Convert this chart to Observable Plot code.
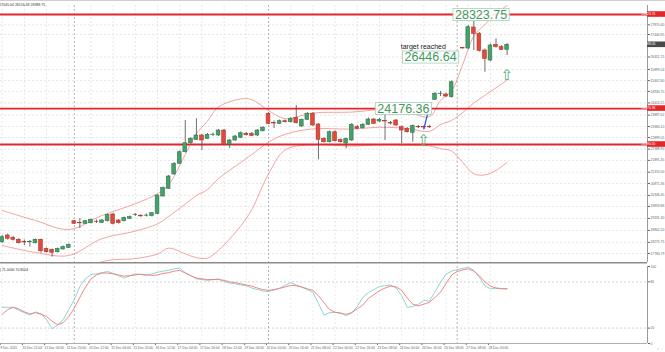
<!DOCTYPE html>
<html><head><meta charset="utf-8">
<script src="https://cdn.jsdelivr.net/npm/d3@7"></script>
<script src="https://cdn.jsdelivr.net/npm/@observablehq/plot@0.6"></script>
<style>
html,body{margin:0;padding:0;background:#fff;}
body{width:665px;height:352px;overflow:hidden;font-family:"Liberation Sans",Arial,sans-serif;}
svg{display:block;overflow:visible}
</style></head><body>
<div id="main"></div><div id="osc"></div>
<script>
// ---- candle data (Bitcoin H4) ----
const open = [18282,18578,18476,18388,18291,18278,18238,18388,17991,17947,
17841,17960,18035,19208,19129,19094,19120,19186,19138,19208,
19504,19239,19208,19314,19482,19438,19451,19438,19535,20298,
20637,21268,21740,22251,22648,22798,22988,22842,23010,22988,
23208,22578,22767,22886,23063,23063,22988,23177,23945,23539,
23504,23618,23574,23768,23385,23680,23945,23473,22842,22692,
23133,22789,22635,22767,23363,23310,23460,23693,23605,23627,
23539,23649,23354,23283,23107,23363,23354,23363,24562,24818,
24796,24677,26450,26855,26824,27750,27473,26736,26295,26988,
26882,26767];
const close = [18503,18432,18388,18238,18269,18291,18388,17885,17841,17815,
17991,18062,18168,19094,19116,19208,19270,19173,19239,19473,
19094,19120,19358,19385,19495,19424,19460,19561,20342,20672,
21180,21740,22251,22648,22842,22988,22767,23019,23023,23208,
22578,22767,22944,23089,23001,22974,23208,23327,23504,23517,
23618,23574,23724,23530,23680,23945,23429,22798,22692,23133,
22736,22692,22833,23460,23283,23460,23693,23504,23680,23605,
23517,23429,23208,23133,23398,23349,23340,23349,24827,24831,
24708,25338,26441,26824,27764,27473,26714,26370,26957,26882,
26767,26988];
const high = [18578,18644,18534,18445,18379,18357,18423,18423,18026,17982,
18026,18115,18203,19239,19327,19239,19305,19261,19283,19526,
19561,19283,19394,19438,19548,19504,19526,19592,20364,20717,
21224,21797,22304,23649,22899,23724,23032,23076,23098,23252,
23252,22811,22988,23142,23120,23120,23252,23385,24002,23627,
23671,23671,23781,24311,23715,24002,24002,23517,22899,23186,
23186,22833,22877,23517,23429,23517,23759,23737,23737,24015,
23605,23693,23407,23340,23451,23429,23407,23429,24884,24928,
24862,25391,26604,26877,27839,28015,27530,26802,27023,27252,
26957,27045];
const low = [18225,18379,18335,18203,18137,18062,18203,17797,17806,17621,
17806,17938,18004,19063,18886,19063,19085,19107,19107,19173,
19041,19085,19173,19283,19416,19371,19394,19394,19504,20276,
20606,21246,21709,22216,22613,22767,22326,22811,22944,22944,
22547,22414,22723,22855,22966,22944,22944,23142,23473,23296,
23473,23539,23539,23495,23340,23649,23385,21916,22657,22657,
22701,22657,22401,22723,23252,23274,23429,23473,23561,22767,
23451,23385,22622,23098,22692,23296,23283,23296,24531,24708,
24663,24641,26295,26802,26780,26736,26670,25779,26251,26846,
26736,26516];

// ---- Bollinger bands (read at selected candles) ----
const bbIdx   = [0,6,12,18,24,28,30,33,35,37,39,43,45,48,51,56,63,68,73,77,79,81,83,85,87,89,91];
const bbUpper = [19680,19239,18842,19460,19980,20420,20820,22150,23070,23620,24250,24600,24570,24090,23730,23980,24020,24120,24030,23820,24530,24960,26120,27370,27880,28360,28720];
const bbMid   = [18137,17828,17696,18440,18770,19090,19420,19960,20340,20600,21090,21800,22150,22690,23040,23280,23270,23350,23300,23170,23470,23650,24000,24420,24760,25090,25430];
const bbLower = [16593,16549,16549,17420,17560,17760,18020,17770,17600,17580,17930,19000,19730,21290,22350,22580,22520,22580,22560,22530,22410,22300,21800,21300,21250,21450,21800];

// ---- Stochastic (5,3,3) ----
const stochK = [47,47,47,43,40,37,41,38.5,31,19,24,31,44,57,74,84,89.5,90.5,92,93.5,
91,88,85,88,90.5,89.5,88,90.5,92.5,94,95,97,98,92,88,84,83,82,83,84,
80.5,78.5,77.5,76,75,72,70,68,67.5,69.5,72,75.5,79,76,73,70,66.5,52,37,40,
40.5,40,36,40,48,60,66,70,74,75,76,72,62,47,48,51,56,55,67,79.5,
90,94,96,97.5,99,95,86,75,71,72,71.5,71];
const stochD = [38,44,47,45,41,38.5,40,38,35,29,24.5,27,35,46,60,73,84,89,91.5,91.5,
90.5,89,87.5,88,89,90,89.5,88.5,89,91,92,94,95,91.5,88,85,84,83,83,83,
82,80,79,77.5,76,74.5,72,70,69,70,71.5,73.5,75.5,75,73.5,71,69,62,53,44,
40.5,39,38,40,45,50,58.5,63.5,68.5,72,74.5,73.5,69,59,51,49,51,53.5,60,66.5,
78,89,93.5,95.5,97,94,88,80,74.5,72,71,71];

// ---- levels, ticks, labels ----
const levels = [28323.75, 24176.36, 22590.00];
const priceTicks = [27870.40,27440.85,26451.75,25899.24,25407.80,24930.75,24424.25,23887.62,23384.10,22899.05,22388.90,21891.45,21370.00,20871.36,20346.45,19859.86,19331.30,18802.20,18275.75,17783.79];
const labelIdx = [0,4,8,12,16,20,24,28,32,36,40,44,48,52,56,60,64,68,72,76,80,84,88];
const xLabels = ["9 Dec 2020","10 Dec 12:00","11 Dec 04:00","11 Dec 20:00","14 Dec 12:00","15 Dec 04:00","15 Dec 20:00","16 Dec 12:00","17 Dec 04:00","17 Dec 20:00","18 Dec 12:00","19 Dec 04:00","20 Dec 00:00","20 Dec 16:00","21 Dec 08:00","22 Dec 00:00","22 Dec 16:00","23 Dec 08:00","24 Dec 00:00","24 Dec 16:00","26 Dec 08:00","27 Dec 08:00","28 Dec 00:00"];
const sepIdx = [13, 48, 82];
const blueIdx = [76, 76.9];
const bluePrice = [23283, 24176.36];
const arrowIdx = [76, 91];
const arrowPrice = [22800, 25650];
const notes = [
  {text: "28323.75", i: 86.4, p: 28323.75},
  {text: "24176.36", i: 72.4, p: 24176.36},
  {text: "26446.64", i: 77.3, p: 26446.64}
];

// ---- build ----
const GREEN = "#47a06b", RED = "#de4a3c";
const candles = d3.range(open.length).map(i => ({i, o: open[i], h: high[i], l: low[i], c: close[i], up: close[i] >= open[i]}));
const bands = bbIdx.map((i, k) => ({i, u: bbUpper[k], m: bbMid[k], l: bbLower[k]}));
const blue = blueIdx.map((i, k) => ({i, p: bluePrice[k]}));
const arrows = arrowIdx.map((i, k) => ({i, p: arrowPrice[k]}));
const stoch = stochK.map((k, i) => ({i, k, d: stochD[i]}));
const xDomain = [-0.3, 116.3];
const W = 665, AX = 18;
const FONT = "Liberation Sans, Arial, sans-serif";
const bandStyle = {stroke: "#f08a8a", strokeWidth: 0.8, curve: "catmull-rom", clip: true};

const main = Plot.plot({
  width: W, height: 262, marginTop: 5, marginBottom: 0, marginLeft: 0, marginRight: AX,
  x: {domain: xDomain, axis: null},
  y: {domain: [17387, 28721], axis: null},
  style: {background: "transparent", fontFamily: FONT, color: "#666", overflow: "hidden"},
  marks: [
    Plot.ruleY(priceTicks, {stroke: "#e6e6e6", strokeDasharray: "2,2"}),
    Plot.ruleX(labelIdx, {stroke: "#e6e6e6", strokeDasharray: "2,2"}),
    Plot.ruleX(sepIdx, {stroke: "#b4b4b4", strokeDasharray: "2,2"}),
    Plot.line(bands, {x: "i", y: "u", ...bandStyle}),
    Plot.line(bands, {x: "i", y: "m", ...bandStyle}),
    Plot.line(bands, {x: "i", y: "l", ...bandStyle}),
    Plot.ruleY(levels, {stroke: "#e2262b", strokeWidth: 1.8}),
    Plot.ruleX(candles, {x: "i", y1: "l", y2: "h", stroke: "#4a4a4a", strokeWidth: 0.8}),
    Plot.rect(candles, {x1: d => d.i - 0.34, x2: d => d.i + 0.34, y1: "o", y2: "c",
      fill: d => d.up ? GREEN : RED, stroke: d => d.up ? "#2f7a4c" : "#b5372b", strokeWidth: 0.6}),
    Plot.line(blue, {x: "i", y: "p", stroke: "#3651d6", strokeWidth: 1.3}),
    Plot.text(arrows, {x: "i", y: "p", text: () => "\u21e7", fontSize: 15, fill: "#56a872", fontFamily: "DejaVu Sans"}),
    Plot.text(["target reached"], {x: 75.9, y: 26900, fontSize: 7, fill: "#222"}),
    Plot.ruleX([xDomain[1]], {stroke: "#9a9a9a"}),
    Plot.axisY({anchor: "right", ticks: priceTicks, tickFormat: d => d.toFixed(2), tickSize: 2, tickPadding: 1, fontSize: 3.3})
  ]
});
document.getElementById("main").append(main);

const xs = main.scale("x"), ys = main.scale("y");
const sm = d3.select(main);
// top border and legend
sm.append("line").attr("x1", 0).attr("x2", W).attr("y1", 0.5).attr("y2", 0.5).attr("stroke", "#cfcfcf");
sm.append("text").attr("x", 5).attr("y", 5.5).attr("font-size", 3.5).attr("fill", "#333")
  .text("Bitcoin, H4  26767.36 27045.04 26516.48 26988.75");
// annotation boxes
for (const n of notes) {
  const g = sm.append("g");
  const t = g.append("text").attr("x", xs.apply(n.i)).attr("y", ys.apply(n.p))
    .attr("text-anchor", "middle").attr("dy", "0.36em").attr("font-size", 12.5)
    .attr("fill", "#3f9a62").text(n.text);
  const bb = t.node().getBBox();
  g.insert("rect", "text").attr("x", bb.x - 2).attr("y", bb.y + 1).attr("width", bb.width + 4).attr("height", bb.height - 2)
    .attr("fill", "rgba(255,255,255,0.92)").attr("stroke", "#a9cfb6").attr("stroke-width", 0.8);
}
// right axis level labels
const axX = xs.apply(xDomain[1]);
for (const v of levels) {
  const y = ys.apply(v);
  sm.append("rect").attr("x", axX).attr("y", y - 2.8).attr("width", W - axX).attr("height", 5.6).attr("fill", "#e2262b");
  sm.append("text").attr("x", axX + 1.5).attr("y", y + 1.2).attr("font-size", 3.3).attr("fill", "#fff").text(v.toFixed(2));
}
{
  const v = close[close.length - 1], y = ys.apply(v);
  sm.append("rect").attr("x", axX).attr("y", y - 2.8).attr("width", W - axX).attr("height", 5.6).attr("fill", "#4a4a4a");
  sm.append("text").attr("x", axX + 1.5).attr("y", y + 1.2).attr("font-size", 3.3).attr("fill", "#fff").text(v.toFixed(2));
}

const osc = Plot.plot({
  width: W, height: 90, marginTop: 4, marginBottom: 9, marginLeft: 0, marginRight: AX,
  x: {domain: xDomain, axis: null},
  y: {domain: [0, 100], axis: null},
  style: {background: "transparent", fontFamily: FONT, color: "#666", overflow: "hidden"},
  marks: [
    Plot.ruleY([20, 80], {stroke: "#d2d2d2", strokeDasharray: "2,2"}),
    Plot.ruleX(labelIdx, {stroke: "#ececec", strokeDasharray: "2,2"}),
    Plot.ruleX(sepIdx, {stroke: "#b4b4b4", strokeDasharray: "2,2"}),
    Plot.line(stoch, {x: "i", y: "k", stroke: "#7fd0cf", strokeWidth: 0.9}),
    Plot.line(stoch, {x: "i", y: "d", stroke: "#f07878", strokeWidth: 0.9}),
    Plot.ruleX([xDomain[1]], {stroke: "#9a9a9a"}),
    Plot.axisY({anchor: "right", ticks: [0, 20, 80, 100], tickSize: 2, tickPadding: 1, fontSize: 3.3}),
    Plot.axisX({ticks: labelIdx, tickFormat: d => xLabels[labelIdx.indexOf(d)], tickSize: 2, tickPadding: 1,
      fontSize: 3.3, textAnchor: "start", dx: -2})
  ]
});
document.getElementById("osc").append(osc);
const so = d3.select(osc);
const oxs = osc.scale("x");
const oAx = oxs.apply(xDomain[1]);
so.append("line").attr("x1", 0).attr("x2", oAx).attr("y1", 0.8).attr("y2", 0.8).attr("stroke", "#8c8c8c").attr("stroke-width", 1.6);
so.append("line").attr("x1", 0).attr("x2", oAx).attr("y1", 81.5).attr("y2", 81.5).attr("stroke", "#9a9a9a").attr("stroke-width", 0.8);
so.append("text").attr("x", 5).attr("y", 9).attr("font-size", 3.5).attr("fill", "#333").text("Stoch(5,3,3) 71.0000 70.8004");
</script>
</body></html>
